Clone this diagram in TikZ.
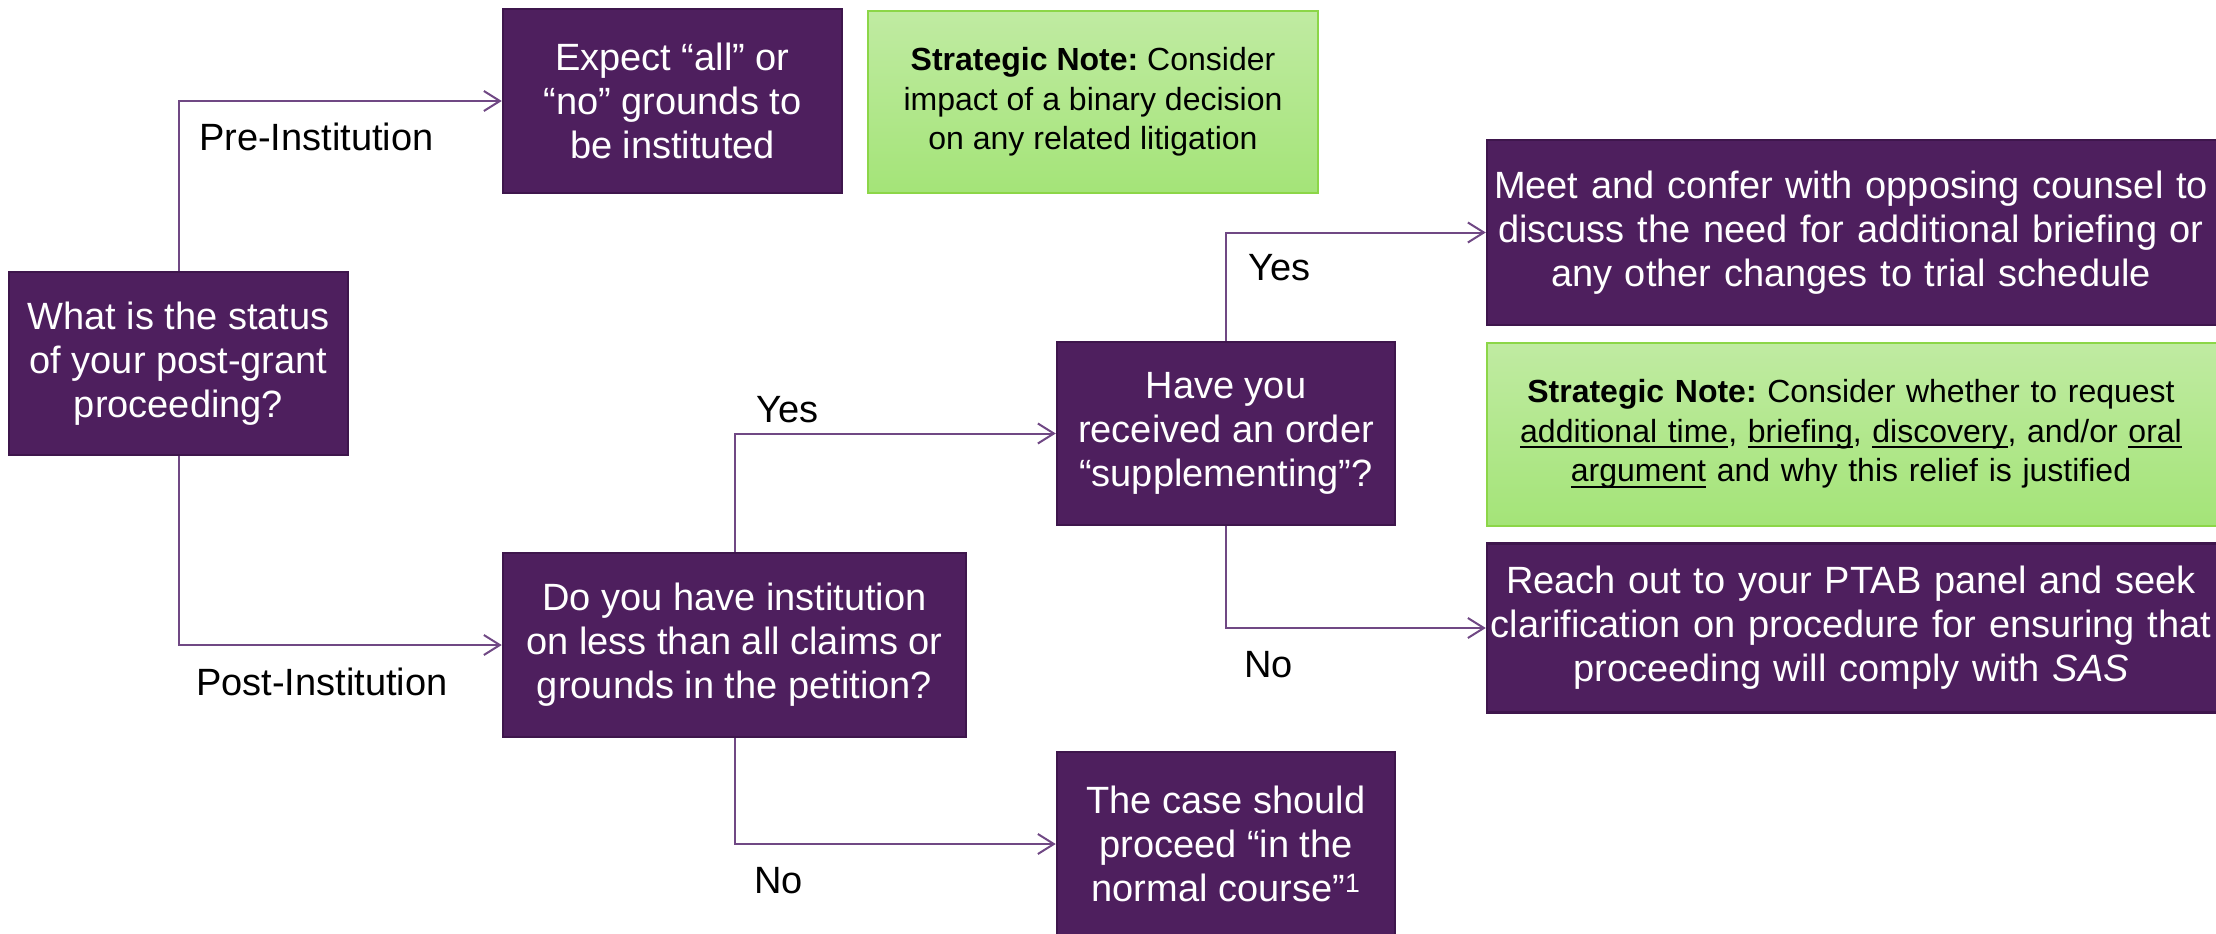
\documentclass[tikz,border=0pt]{standalone}
\usepackage{fontspec}
\setmainfont{Liberation Sans}
\usetikzlibrary{arrows.meta}
\frenchspacing
\definecolor{pfill}{RGB}{78,31,94}
\definecolor{pborder}{RGB}{62,22,76}
\definecolor{gtop}{RGB}{192,235,162}
\definecolor{gbot}{RGB}{164,228,120}
\definecolor{gborder}{RGB}{140,214,72}
\definecolor{lcol}{RGB}{112,72,132}
\newsavebox\myulbox
\newcommand\myul[1]{\sbox\myulbox{#1}\makebox[0pt][l]{\rule[-6pt]{\wd\myulbox}{2.2pt}}\usebox\myulbox}
\begin{document}
\begin{tikzpicture}[x=1pt,y=-1pt,
  pbox/.style={draw=pborder, line width=2.5pt, fill=pfill, text=white, inner sep=0pt, align=center, font=\fontsize{38}{44}\selectfont},
  gbox/.style={draw=gborder, line width=2pt, top color=gtop, bottom color=gbot, inner sep=0pt, align=center, font=\fontsize{32}{39.5}\selectfont},
  conn/.style={draw=lcol, line width=2pt, -{Straight Barb[length=16pt,width=20pt]}},
  lbl/.style={font=\fontsize{38}{44}\selectfont, inner sep=0pt, anchor=base west}]
\useasboundingbox (0,0) rectangle (2216,934);
% boxes
\node[pbox, minimum width=339pt, minimum height=183pt] (status) at (178.5,363.5) {What is the status\\of your post-grant\\proceeding?};
\node[pbox, minimum width=339pt, minimum height=184pt] (expect) at (672.5,101) {Expect “all” or\\“no” grounds to\\be instituted};
\node[gbox, minimum width=450pt, minimum height=182pt] (note1) at (1093,102) {\textbf{Strategic Note:} Consider\\impact of a binary decision\\on any related litigation};
\node[pbox, minimum width=740pt, minimum height=185pt, text width=728pt] (meet) at (1857,232.5) {\hspace*{-12pt}Meet and confer with opposing counsel to\\\hspace*{-12pt}discuss the need for additional briefing or\\\hspace*{-12pt}any other changes to trial schedule};
\node[gbox, minimum width=740pt, minimum height=183pt, text width=728pt] (note2) at (1857,434) {\hspace*{-12pt}\textbf{Strategic Note:} Consider whether to request\\\hspace*{-12pt}\myul{additional time}, \myul{briefing}, \myul{discovery}, and/or \myul{oral}\\\hspace*{-12pt}\myul{argument} and why this relief is justified};
\node[pbox, minimum width=740pt, minimum height=169pt, text width=728pt] (reach) at (1857,628) {\hspace*{-12pt}Reach out to your PTAB panel and seek\\\hspace*{-12pt}clarification on procedure for ensuring that\\\hspace*{-12pt}proceeding will comply with \textit{SAS}};
\node[pbox, minimum width=338pt, minimum height=183pt] (have) at (1226,433.5) {Have you\\received an order\\“supplementing”?};
\node[pbox, minimum width=463pt, minimum height=184pt] (doyou) at (734.5,645) {Do you have institution\\on less than all claims or\\grounds in the petition?};
\node[pbox, minimum width=338pt, minimum height=184pt] (case) at (1226,844) {The case should\\proceed “in the\\normal course”\textsuperscript{1}};
% connectors
\draw[conn] (status.north) |- (expect.west);
\draw[conn] (status.south) |- (doyou.west);
\draw[conn] (doyou.north) |- (have.west);
\draw[conn] (doyou.south) |- (case.west);
\draw[conn] (have.north) |- (meet.west);
\draw[conn] (have.south) |- (reach.west);
% labels
\node[lbl] (lpre) at (199,150) {Pre-Institution};
\node[lbl] (lpost) at (196,695) {Post-Institution};
\node[lbl] (lyes1) at (756,422) {Yes};
\node[lbl] (lno1) at (754,893) {No};
\node[lbl] (lyes2) at (1248,280) {Yes};
\node[lbl] (lno2) at (1244,677) {No};
\end{tikzpicture}
\end{document}
